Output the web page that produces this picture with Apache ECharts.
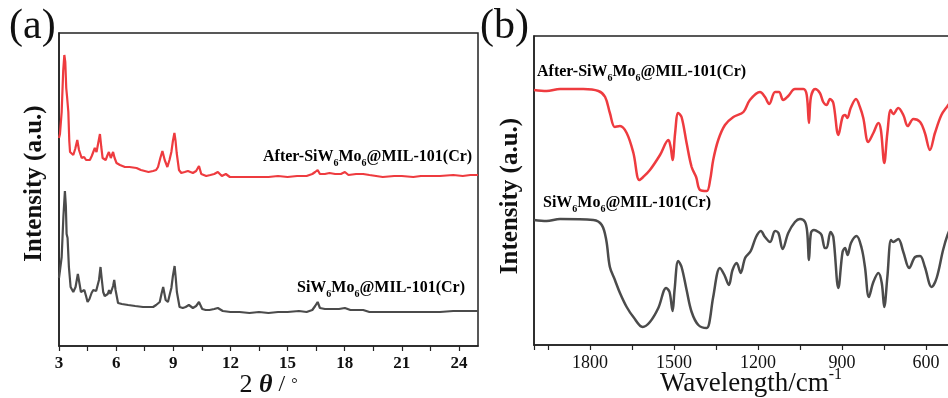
<!DOCTYPE html>
<html>
<head>
<meta charset="utf-8">
<script src="https://cdn.jsdelivr.net/npm/echarts@6/dist/echarts.min.js"></script>
<style>
html,body{margin:0;padding:0;background:#fff;}
#chart{width:948px;height:398px;}
</style>
</head>
<body>
<div id="chart"></div>
<script>
// ---------- DATA ----------
// Panel (a) XRD: [2θ, intensity (a.u.)]
var xrdAfter = [
 [3.0,208],[3.05,212],[3.14,234],[3.22,275],[3.28,291],[3.33,284],[3.38,258],[3.42,250],[3.49,234],[3.54,205],[3.58,194],[3.66,192],[3.75,191],[3.85,197],[3.96,206],[4.05,196],[4.19,188],[4.32,189],[4.42,186],[4.5,184],[4.62,186],[4.72,190],[4.8,194],[4.88,198],[4.97,194],[5.06,203],[5.15,212],[5.22,199],[5.29,188],[5.37,187],[5.45,186],[5.55,191],[5.62,194],[5.72,188],[5.78,191],[5.84,194],[5.92,188],[6.02,183],[6.2,181],[6.46,179],[6.7,179],[7.07,178],[7.3,176],[7.5,175],[7.7,174],[7.94,175],[8.1,176],[8.2,179],[8.32,188],[8.43,195],[8.55,186],[8.69,179],[8.8,186],[8.9,194],[8.98,205],[9.06,213],[9.12,205],[9.18,193],[9.3,176],[9.42,173],[9.6,174],[9.77,175],[9.9,174],[10.03,173],[10.2,175],[10.35,180],[10.47,172],[10.6,171],[10.73,170],[10.95,171],[11.15,172],[11.34,174],[11.55,170],[11.76,172],[11.97,169],[12.5,169],[13.0,169],[13.5,169],[14.0,169],[14.5,170],[15.0,169],[15.5,170],[16.0,170],[16.3,172],[16.45,174],[16.58,176],[16.7,172],[16.96,172],[17.2,173],[17.5,172],[17.8,172],[18.01,174],[18.2,171],[18.6,172],[18.97,172],[19.3,171],[20.0,169],[20.6,170],[21.0,170],[21.6,169],[22.0,170],[22.6,170],[23.0,170],[23.7,171],[24.2,170],[24.6,171],[25.0,171]
];
var xrdFresh = [
 [3.0,68],[3.05,70],[3.14,89],[3.23,129],[3.31,155],[3.36,140],[3.4,112],[3.45,108],[3.52,79],[3.61,59],[3.75,54],[3.87,59],[3.99,72],[4.08,62],[4.15,54],[4.25,55],[4.33,56],[4.42,50],[4.5,44],[4.6,47],[4.71,53],[4.8,56],[4.88,58],[4.95,55],[5.0,54],[5.1,66],[5.18,79],[5.25,66],[5.32,54],[5.4,50],[5.49,48],[5.56,52],[5.63,56],[5.7,52],[5.76,51],[5.84,60],[5.9,66],[5.97,56],[6.1,43],[6.3,42],[6.63,41],[7.0,40],[7.41,39],[7.7,39],[7.94,39],[8.1,41],[8.29,44],[8.38,52],[8.47,59],[8.6,46],[8.72,44],[8.82,52],[8.9,58],[8.98,70],[9.07,80],[9.13,68],[9.19,54],[9.33,39],[9.5,38],[9.65,39],[9.82,41],[10.03,38],[10.2,40],[10.35,44],[10.52,37],[10.7,36],[10.9,36],[11.15,37],[11.34,38],[11.6,35],[12.0,34],[12.48,34],[13.0,33],[13.5,34],[14.0,33],[14.5,34],[15.0,34],[15.6,35],[16.0,34],[16.3,36],[16.45,40],[16.58,44],[16.7,38],[16.96,37],[17.3,37],[17.7,37],[18.01,38],[18.3,36],[18.6,36],[18.97,36],[19.3,34],[20.0,34],[20.5,34],[21.0,34],[21.5,34],[22.0,34],[22.5,34],[23.0,34],[23.7,35],[24.2,35],[24.6,35],[25.0,35]
];
// Panel (b) FT-IR: [wavenumber (cm-1), intensity (a.u.)]
var irAfter = [
 [2000,255],[1955,254],[1907,256],[1824,256],[1770,254],[1746,248],[1729,232],[1711,218],[1693,219],[1669,212],[1645,192],[1624,165],[1610,168],[1586,175],[1550,190],[1520,205],[1512,198],[1505,185],[1496,212],[1485,232],[1473,228],[1455,202],[1437,178],[1421,168],[1407,155],[1383,154],[1371,165],[1360,185],[1342,205],[1318,220],[1288,228],[1252,233],[1229,245],[1193,253],[1175,248],[1160,241],[1139,253],[1125,253],[1110,245],[1092,249],[1068,256],[1038,256],[1026,250],[1018,222],[1011,248],[996,256],[979,252],[967,243],[955,240],[943,246],[931,242],[913,210],[898,228],[889,230],[881,227],[869,237],[850,246],[836,238],[824,227],[806,203],[788,212],[770,222],[761,215],[749,182],[738,212],[726,235],[717,231],[699,237],[681,230],[665,219],[645,226],[621,223],[604,212],[586,195],[568,212],[545,230],[523,239],[500,248]
];
var irFresh = [
 [2000,125],[1955,124],[1907,126],[1788,125],[1758,120],[1742,105],[1729,78],[1711,65],[1693,52],[1669,38],[1645,28],[1612,18],[1586,23],[1556,37],[1528,57],[1516,53],[1505,34],[1498,55],[1485,84],[1473,78],[1455,55],[1437,33],[1413,20],[1383,17],[1374,22],[1360,48],[1336,77],[1320,70],[1304,60],[1291,75],[1276,82],[1262,72],[1246,87],[1226,94],[1207,108],[1190,114],[1175,108],[1157,103],[1139,114],[1127,112],[1112,96],[1092,112],[1068,123],[1050,126],[1032,123],[1024,112],[1018,85],[1011,112],[1000,115],[984,113],[973,110],[961,97],[955,97],[941,113],[931,108],[913,57],[898,93],[889,97],[880,90],[868,102],[848,109],[830,97],[818,78],[804,48],[788,63],[770,72],[758,62],[749,38],[738,68],[725,105],[717,103],[699,106],[681,93],[660,77],[639,88],[621,89],[604,78],[580,58],[562,67],[539,95],[523,110],[500,125]
];
var xrdTickLabels = [3, 6, 9, 12, 15, 18, 21, 24];
var irTickLabels = [600, 900, 1200, 1500, 1800];
var seriesNames = ['After-SiW6Mo6@MIL-101(Cr)', 'SiW6Mo6@MIL-101(Cr)'];

// ---------- CHART ----------
var chart = echarts.init(document.getElementById('chart'), null, {renderer: 'canvas'});
var SERIF = '"Liberation Serif", "Times New Roman", serif';
var RED = '#ee3b3f';
var GRAY = '#4b4b4b';
var AXC = '#222';

function subRich(size) {
  return {
    n: {fontFamily: SERIF, fontWeight: 'bold', fontSize: size, lineHeight: 22, color: '#111', verticalAlign: 'middle'},
    s: {fontFamily: SERIF, fontWeight: 'bold', fontSize: Math.round(size * 0.62), lineHeight: 12, color: '#111', verticalAlign: 'bottom'}
  };
}
function labelRich(name) {
  var parts = name.split(/(6)(?=Mo|@)/);
  return parts.map(function (p) { return p === '6' ? '{s|6}' : '{n|' + p + '}'; }).join('');
}

var option = {
  backgroundColor: '#fff',
  animation: false,
  grid: [
    {left: 59, top: 33, width: 419, height: 313, show: true, borderColor: AXC, borderWidth: 1.5, backgroundColor: 'transparent', outerBoundsMode: 'none', containLabel: false},
    {left: 534, top: 36, width: 434, height: 309, show: true, borderColor: AXC, borderWidth: 1.5, backgroundColor: 'transparent', outerBoundsMode: 'none', containLabel: false}
  ],
  xAxis: [
    {
      gridIndex: 0, type: 'value', min: 3, max: 25, interval: 1.5,
      axisLine: {show: true, lineStyle: {color: AXC, width: 1.5}},
      axisTick: {show: true, inside: false, length: 5, lineStyle: {color: AXC, width: 1.2}},
      splitLine: {show: false},
      axisLabel: {
        margin: 9, color: '#111', fontFamily: SERIF, fontWeight: 'bold', fontSize: 17,
        showMaxLabel: false,
        formatter: function (v) { return xrdTickLabels.indexOf(Math.round(v * 100) / 100) >= 0 ? String(v) : ''; }
      },
      name: '{a|2 }{t|θ}{c| / }{d|°}', nameLocation: 'middle', nameGap: 26, nameMoveOverlap: false,
      nameTextStyle: {
        rich: {
          a: {fontFamily: SERIF, fontSize: 26, color: '#111'},
          t: {fontFamily: SERIF, fontSize: 26, fontStyle: 'italic', fontWeight: 'bold', color: '#111'},
          c: {fontFamily: SERIF, fontSize: 24, color: '#111'},
          d: {fontFamily: SERIF, fontSize: 16, color: '#111'}
        }
      }
    },
    {
      gridIndex: 1, type: 'value', min: 450, max: 2000, interval: 150, inverse: true,
      axisLine: {show: true, lineStyle: {color: AXC, width: 1.5}},
      axisTick: {show: true, inside: false, length: 5, lineStyle: {color: AXC, width: 1.2}},
      splitLine: {show: false},
      axisLabel: {
        margin: 9, color: '#111', fontFamily: SERIF, fontSize: 18,
        formatter: function (v) { return irTickLabels.indexOf(Math.round(v)) >= 0 ? String(v) : ''; }
      },
      name: '{a|Wavelength/cm}{b|-1}', nameLocation: 'middle', nameGap: 22, nameMoveOverlap: false,
      nameTextStyle: {
        rich: {
          a: {fontFamily: SERIF, fontSize: 27, color: '#111', verticalAlign: 'bottom', lineHeight: 30},
          b: {fontFamily: SERIF, fontSize: 16, color: '#111', verticalAlign: 'top', lineHeight: 30}
        }
      }
    }
  ],
  yAxis: [
    {
      gridIndex: 0, type: 'value', min: 0, max: 313,
      axisLine: {show: true, lineStyle: {color: AXC, width: 1.5}},
      axisTick: {show: false}, axisLabel: {show: false}, splitLine: {show: false},
      name: 'Intensity (a.u.)', nameLocation: 'middle', nameGap: 12, nameMoveOverlap: false,
      nameTextStyle: {fontFamily: SERIF, fontWeight: 'bold', fontSize: 25, color: '#111', padding: [0, 0, 0, 12]}
    },
    {
      gridIndex: 1, type: 'value', min: 0, max: 309,
      axisLine: {show: true, lineStyle: {color: AXC, width: 1.5}},
      axisTick: {show: false}, axisLabel: {show: false}, splitLine: {show: false},
      name: 'Intensity (a.u.)', nameLocation: 'middle', nameGap: 11, nameMoveOverlap: false,
      nameTextStyle: {fontFamily: SERIF, fontWeight: 'bold', fontSize: 25, color: '#111', padding: [0, 11, 0, 0]}
    }
  ],
  series: [
    {name: seriesNames[0] + ' XRD', type: 'line', xAxisIndex: 0, yAxisIndex: 0, data: xrdAfter, showSymbol: false, smooth: false, lineStyle: {color: RED, width: 2.2}, clip: true},
    {name: seriesNames[1] + ' XRD', type: 'line', xAxisIndex: 0, yAxisIndex: 0, data: xrdFresh, showSymbol: false, smooth: false, lineStyle: {color: GRAY, width: 2.2}, clip: true},
    {name: seriesNames[0] + ' IR', type: 'line', xAxisIndex: 1, yAxisIndex: 1, data: irAfter, showSymbol: false, smooth: 0.35, lineStyle: {color: RED, width: 2.5}, clip: true},
    {name: seriesNames[1] + ' IR', type: 'line', xAxisIndex: 1, yAxisIndex: 1, data: irFresh, showSymbol: false, smooth: 0.35, lineStyle: {color: GRAY, width: 2.5}, clip: true}
  ],
  graphic: [
    {type: 'text', left: 9, top: 6, style: {text: '(a)', font: '42px ' + SERIF, fill: '#111'}},
    {type: 'text', left: 480, top: 6, style: {text: '(b)', font: '42px ' + SERIF, fill: '#111'}},
    {type: 'text', x: 263, y: 146, style: {text: labelRich(seriesNames[0]), rich: subRich(16)}},
    {type: 'text', x: 297, y: 277, style: {text: labelRich(seriesNames[1]), rich: subRich(16)}},
    {type: 'text', x: 537, y: 61, style: {text: labelRich(seriesNames[0]), rich: subRich(16)}},
    {type: 'text', x: 543, y: 192, style: {text: labelRich(seriesNames[1]), rich: subRich(16)}}
  ]
};
chart.setOption(option);
</script>
</body>
</html>
